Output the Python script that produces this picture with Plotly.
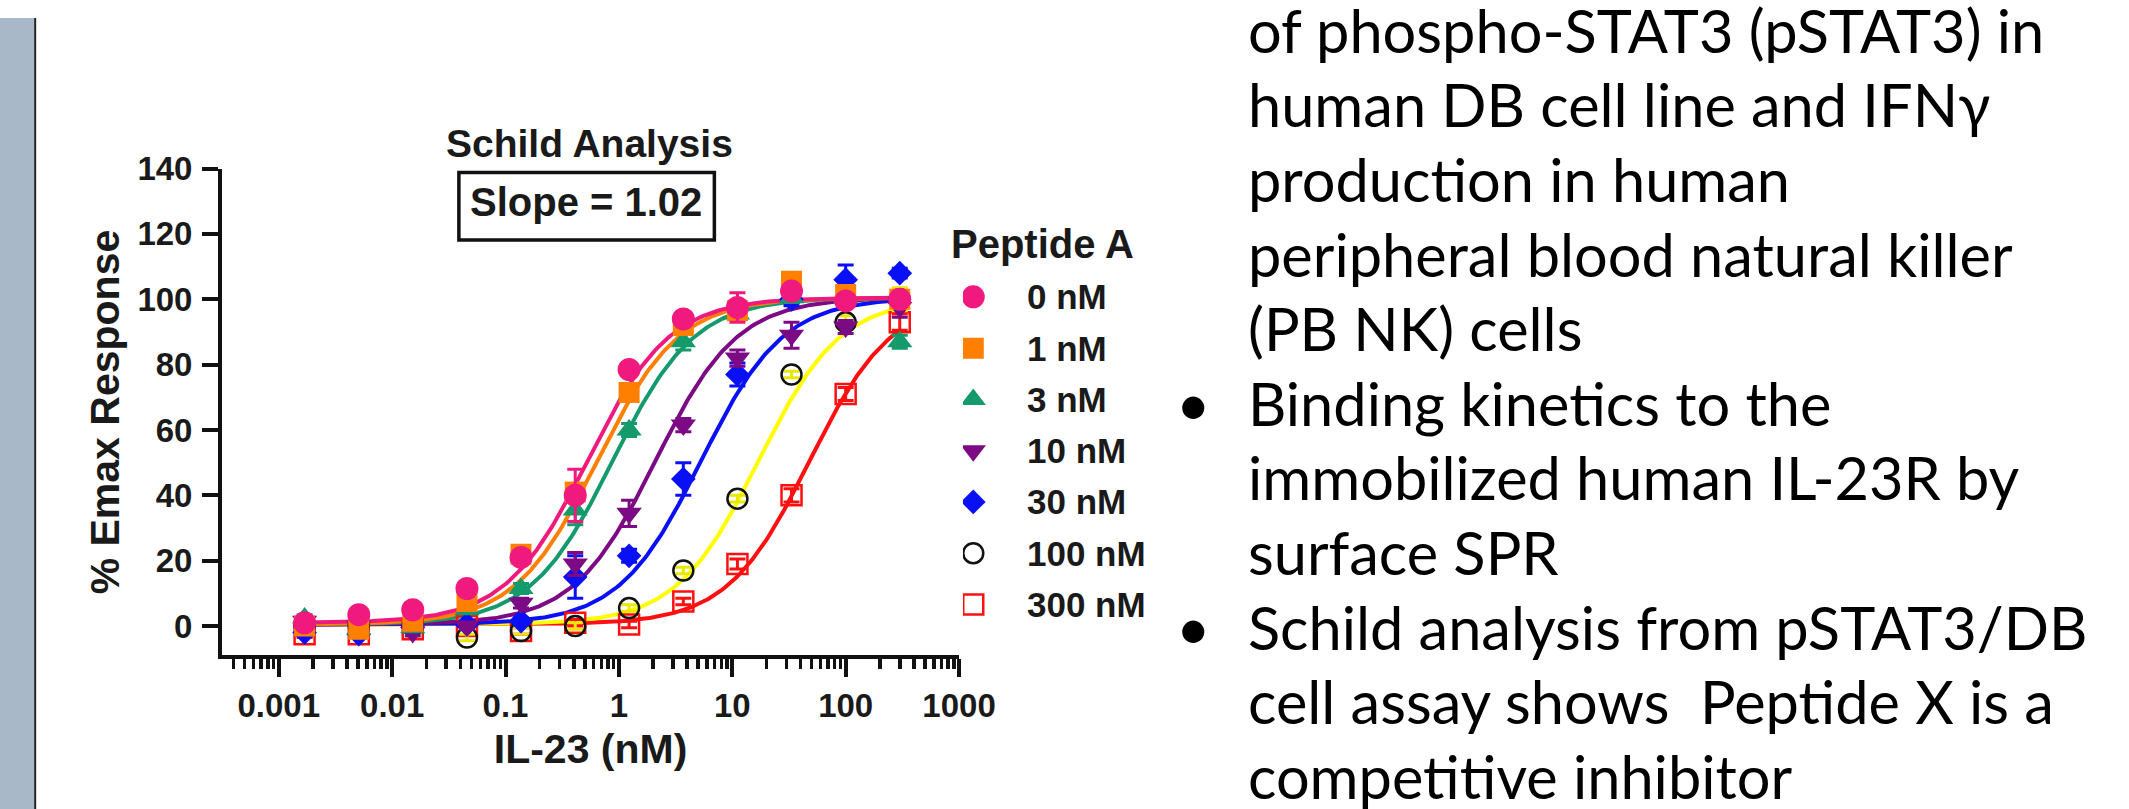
import numpy as np
import plotly.graph_objects as go

W, H = 2129, 809

# ---------------- data ----------------
il23_nM = [0.00169, 0.00508, 0.0152, 0.0457, 0.137, 0.412, 1.23, 3.70, 11.1, 33.3, 100, 300]

series_names = ["0 nM", "1 nM", "3 nM", "10 nM", "30 nM", "100 nM", "300 nM"]

resp_0nM   = [1.0, 3.5, 5.0, 11.5, 21.0, 40.0, 78.5, 94.0, 97.5, 102.5, 99.5, 100.0]
resp_1nM   = [0.0, -1.0, 1.5, 7.5, 22.0, 41.0, 71.5, 92.0, 96.5, 105.5, 101.5, 100.0]
resp_3nM   = [2.5, -1.0, -0.5, 5.0, 11.5, 35.5, 60.0, 87.0, 95.5, 100.5, 100.5, 87.0]
resp_10nM  = [1.5, 0.0, -2.0, 0.0, 7.0, 19.0, 34.5, 61.5, 82.0, 89.0, 91.5, 97.5]
resp_30nM  = [-2.0, -2.5, 0.0, 0.5, 1.5, 15.0, 21.5, 45.0, 77.0, 100.0, 106.0, 108.0]
resp_100nM = [0.0, 0.0, 0.0, -3.5, -1.5, 0.0, 5.5, 17.0, 39.0, 77.0, 93.0, 100.0]
resp_300nM = [-2.5, -2.5, -1.0, 0.0, -1.5, 1.0, 0.5, 7.5, 19.0, 40.0, 71.0, 93.0]

err_0nM   = [1, 1, 1, 1.5, 2, 8, 2, 2, 4.5, 1.5, 2, 1]
err_1nM   = [1, 1, 1, 1, 1.5, 2, 2, 1.5, 1.5, 1.5, 1.5, 1]
err_3nM   = [1, 1, 1, 1, 1.5, 4.5, 2, 2.5, 1.5, 1.5, 1.5, 2]
err_10nM  = [1, 1, 1, 1, 1.5, 3.5, 4, 2, 2.5, 4, 2, 3]
err_30nM  = [1, 1, 1, 1, 1, 6.5, 2, 5, 3.5, 2, 4.5, 1.5]
err_100nM = [1, 1, 1, 1, 1, 1, 1, 1, 1, 1, 2, 3.5]
err_300nM = [1, 1, 1, 1, 1, 1, 1, 1, 1.5, 2, 2, 2.5]

# 4-parameter logistic fit parameters
fit_ec50   = [0.53, 0.64, 0.88, 2.1, 5.3, 17.0, 48.0]
fit_hill   = [1.2, 1.2, 1.2, 1.2, 1.2, 1.2, 1.2]
fit_top    = [100.5, 100.5, 100.5, 100.5, 100.5, 100.5, 100.5]
fit_bottom = [1.0, 0.5, 0.5, 0.5, 0.5, 0.5, 0.5]

x_ticks = [0.001, 0.01, 0.1, 1, 10, 100, 1000]
x_ticktext = ["0.001", "0.01", "0.1", "1", "10", "100", "1000"]
y_ticks = [0, 20, 40, 60, 80, 100, 120, 140]

responses = [resp_0nM, resp_1nM, resp_3nM, resp_10nM, resp_30nM, resp_100nM, resp_300nM]
errors = [err_0nM, err_1nM, err_3nM, err_10nM, err_30nM, err_100nM, err_300nM]

# ---------------- styles ----------------
line_colors = ["#F0197D", "#FF7F00", "#159A6C", "#7D0A85", "#0A10F5", "#FFFF00", "#FF1010"]
err_colors  = ["#F0197D", "#FF7F00", "#159A6C", "#7D0A85", "#0A10F5", "#E8E800", "#FF1010"]
sym = ["circle", "square", "triangle-up", "triangle-down", "diamond", "circle-open", "square-open"]
msize = [23, 21, 22, 22, 19, 20, 20]
mcolor = ["#F0197D", "#FF7F00", "#159A6C", "#7D0A85", "#0A10F5", "#111111", "#FF1010"]

CHART_FONT = "Liberation Sans, Arial, sans-serif"
TEXT_FONT = "Lato, Open Sans, sans-serif"
INK = "#1a1a1a"

def px_x(p):
    return p / W

def px_y(p):
    return 1 - p / H

fig = go.Figure()

xfit = np.logspace(np.log10(il23_nM[0]), np.log10(il23_nM[-1]), 300)

# draw in reverse order so 0 nM sits on top
for i in reversed(range(len(series_names))):
    b, t, ec, h = fit_bottom[i], fit_top[i], fit_ec50[i], fit_hill[i]
    yfit = b + (t - b) / (1 + (ec / xfit) ** h)
    fig.add_trace(go.Scatter(
        x=xfit, y=yfit, mode="lines",
        line=dict(color=line_colors[i], width=4),
        showlegend=False, hoverinfo="skip", xaxis="x", yaxis="y"))
for i in reversed(range(len(series_names))):
    fig.add_trace(go.Scatter(
        x=il23_nM, y=responses[i], mode="markers", name=series_names[i],
        marker=dict(symbol=sym[i], size=msize[i], color=mcolor[i],
                    line=dict(width=2.5 if "open" in sym[i] else 0, color=mcolor[i])),
        error_y=dict(type="data", array=errors[i], color=err_colors[i], thickness=3, width=8),
        showlegend=False, xaxis="x", yaxis="y"))

# ---- legend (symbols on a small auxiliary axis) ----
for i in range(len(series_names)):
    fig.add_trace(go.Scatter(
        x=[0], y=[series_names[i]], mode="markers",
        marker=dict(symbol=sym[i], size=msize[i], color=mcolor[i],
                    line=dict(width=2.5 if "open" in sym[i] else 0, color=mcolor[i])),
        showlegend=False, hoverinfo="skip", xaxis="x2", yaxis="y2"))

annotations = []
for i in range(len(series_names)):
    annotations.append(dict(
        x=0.253, y=series_names[i], xref="x2", yref="y2", xanchor="left", yanchor="middle",
        text=series_names[i], showarrow=False,
        font=dict(family=CHART_FONT, size=35, color=INK, weight="bold")))

annotations.append(dict(x=px_x(966), y=px_y(231), xref="paper", yref="paper",
                        xanchor="left", yanchor="middle", text="Peptide A", showarrow=False,
                        font=dict(family=CHART_FONT, size=40, color=INK, weight="bold")))

annotations.append(dict(x=px_x(600), y=px_y(128.5), xref="paper", yref="paper",
                        xanchor="center", yanchor="middle", text="Schild Analysis", showarrow=False,
                        font=dict(family=CHART_FONT, size=39, color=INK, weight="bold")))
annotations.append(dict(x=px_x(596), y=px_y(188), xref="paper", yref="paper",
                        xanchor="center", yanchor="middle", text="Slope = 1.02", showarrow=False,
                        font=dict(family=CHART_FONT, size=40, color=INK, weight="bold")))

# ---- slide text ----
slide_lines = [
    "of phospho-STAT3 (pSTAT3) in",
    "human DB cell line and IFNγ",
    "production in human",
    "peripheral blood natural killer",
    "(PB NK) cells",
    "Binding kinetics to the",
    "immobilized human IL-23R by",
    "surface SPR",
    "Schild analysis from pSTAT3/DB",
    "cell assay shows  Peptide X is a",
    "competitive inhibitor",
]
bullet_rows = [5, 8]
line_pitch = 76.3
first_center = 12
for k, txt in enumerate(slide_lines):
    yc = first_center + k * line_pitch
    annotations.append(dict(x=px_x(1268), y=px_y(yc), xref="paper", yref="paper",
                            xanchor="left", yanchor="middle", text=txt, showarrow=False,
                            font=dict(family=TEXT_FONT, size=59.5, color="#000000")))
    if k in bullet_rows:
        annotations.append(dict(x=px_x(1215), y=px_y(yc), xref="paper", yref="paper",
                                xanchor="center", yanchor="middle", text="•", showarrow=False,
                                font=dict(family=TEXT_FONT, size=59.5, color="#000000")))

shapes = [
    dict(type="rect", xref="paper", yref="paper", x0=0, x1=px_x(35), y0=0, y1=1,
         fillcolor="#A9B8C9", line=dict(width=0), layer="below"),
    dict(type="line", xref="paper", yref="paper", x0=px_x(35.8), x1=px_x(35.8), y0=0, y1=1,
         line=dict(color="#222222", width=2)),
    dict(type="rect", xref="paper", yref="paper", x0=px_x(467), x1=px_x(727),
         y0=px_y(227), y1=px_y(158), line=dict(color="#111111", width=3.5)),
]

fig.update_layout(
    width=W, height=H, autosize=False,
    margin=dict(l=0, r=0, t=0, b=0, pad=0),
    paper_bgcolor="white", plot_bgcolor="rgba(0,0,0,0)",
    showlegend=False,
    font=dict(family=CHART_FONT, color=INK),
    xaxis=dict(
        type="log", domain=[px_x(226), px_x(976)], range=[-3.5, 3.0],
        tickvals=x_ticks, ticktext=x_ticktext,
        ticks="outside", ticklen=18, tickwidth=4, tickcolor="#111111",
        minor=dict(ticks="outside", ticklen=10, tickwidth=3.5, tickcolor="#111111",
                   dtick="D1", showgrid=False),
        showline=True, linewidth=4, linecolor="#111111",
        showgrid=False, zeroline=False,
        tickfont=dict(family=CHART_FONT, size=33, color=INK, weight="bold"),
        title=dict(text="IL-23 (nM)", font=dict(family=CHART_FONT, size=41, color=INK, weight="bold"),
                   standoff=12),
        anchor="y",
    ),
    yaxis=dict(
        domain=[px_y(652), px_y(154)], range=[-9, 140],
        tickvals=y_ticks, ticks="outside", ticklen=16, tickwidth=4, tickcolor="#111111",
        showline=True, linewidth=4, linecolor="#111111",
        showgrid=False, zeroline=False, ticklabelstandoff=3,
        tickfont=dict(family=CHART_FONT, size=33, color=INK, weight="bold"),
        title=dict(text="% Emax Response", font=dict(family=CHART_FONT, size=41, color=INK, weight="bold"),
                   standoff=6),
        anchor="x",
    ),
    xaxis2=dict(domain=[px_x(980), px_x(1200)], range=[-0.05, 1.0], visible=False, anchor="y2"),
    yaxis2=dict(domain=[px_y(626), px_y(259)], type="category",
                categoryorder="array", categoryarray=series_names,
                range=[6.5, -0.5], visible=False, anchor="x2"),
    annotations=annotations,
    shapes=shapes,
)

post = ("document.documentElement.style.margin='0';document.body.style.margin='0';"
        "document.body.style.padding='0';document.body.style.overflow='hidden';"
        "var d=document.getElementById('{plot_id}');d.style.position='absolute';"
        "d.style.left='0px';d.style.top='0px';")

fig.write_html("out.html", config={"displayModeBar": False, "staticPlot": True}, post_script=post)
